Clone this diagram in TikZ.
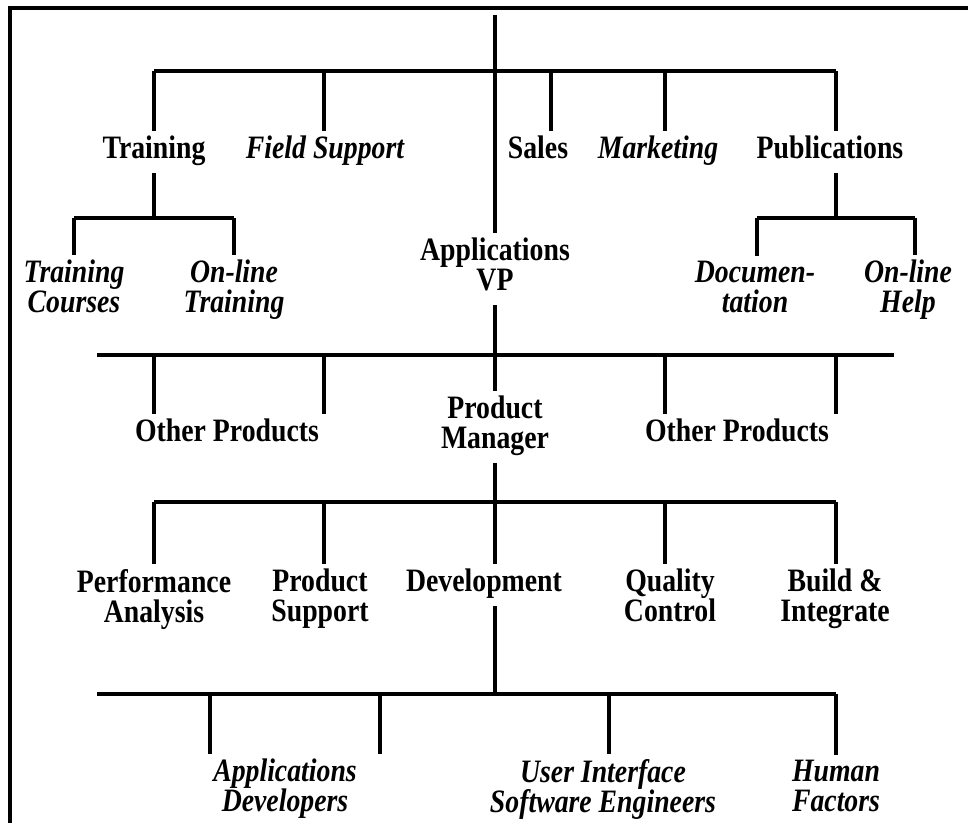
\documentclass[tikz,border=0pt]{standalone}
\usepackage{fontspec}
\setmainfont[FakeStretch=0.85]{Liberation Serif}
\usetikzlibrary{positioning}

\begin{document}
\begin{tikzpicture}[
    x=0.75pt, y=-0.75pt,
    unit/.style={font=\fontsize{24.5}{22.5}\selectfont\bfseries, align=center, inner sep=3.75pt,
        execute at begin node=\strut, execute at end node=\strut},
    staff/.style={unit, font=\fontsize{24.5}{22.5}\selectfont\bfseries\itshape},
    bar/.style={line width=3pt},
    stem/.style={line width=2.4pt},
    frame/.style={line width=3pt, line join=miter},
]
\useasboundingbox (0,0) rectangle (968,822);

% Frame
\draw[frame] (10,830) -- (10,8) -- (976,8);

% Trunk nodes
\node[unit] (vp) at (495,269) {Applications\\VP};
\node[unit] (pm) at (495,427) {Product\\Manager};
\node[unit] (dev) at (484,585) {Development};

% Level 1 units
\node[unit] (train) at (154,152) {Training};
\node[staff] (field) at (325,152) {Field Support};
\node[unit] (sales) at (538,152) {Sales};
\node[staff] (mkt) at (658,152) {Marketing};
\node[unit] (pubs) at (830,152) {Publications};

% Training and Publications groups
\node[staff] (tcourse) at (74,291) {Training\\Courses};
\node[staff] (oltrain) at (234,291) {On-line\\Training};
\node[staff] (docu) at (755,291) {Documen-\\tation};
\node[staff] (olhelp) at (908,291) {On-line\\Help};

% Product level
\node[unit] (oth1) at (227,435) {Other Products};
\node[unit] (oth2) at (737,435) {Other Products};

% Product Manager's units
\node[unit] (perf) at (154,600) {Performance\\Analysis};
\node[unit] (psup) at (320,600) {Product\\Support};
\node[unit] (qc) at (670,600) {Quality\\Control};
\node[unit] (build) at (835,600) {Build \&\\Integrate};

% Development staff
\node[staff] (appdev) at (285,790) {Applications\\Developers};
\node[staff] (uieng) at (603,790) {User Interface\\Software Engineers};
\node[staff] (human) at (836,790) {Human\\Factors};

% Bar coordinates
\coordinate (top) at (495,15);
\coordinate (b1-1) at (154,71);
\coordinate (b1-2) at (324,71);
\coordinate (b1-3) at (551,71);
\coordinate (b1-4) at (665,71);
\coordinate (b1-5) at (836,71);
\coordinate (ts-w) at (74,218);
\coordinate (ts-e) at (234,218);
\coordinate (ps-w) at (757,218);
\coordinate (ps-m) at (836,218);
\coordinate (ps-e) at (915,218);
\coordinate (b2-w) at (97,355);
\coordinate (b2-1) at (154,355);
\coordinate (b2-2) at (324,355);
\coordinate (b2-3) at (665,355);
\coordinate (b2-4) at (836,355);
\coordinate (b2-e) at (894,355);
\coordinate (b3-1) at (154,502);
\coordinate (b3-2) at (324,502);
\coordinate (b3-3) at (495,502);
\coordinate (b3-4) at (665,502);
\coordinate (b3-5) at (836,502);
\coordinate (b4-w) at (97,694);
\coordinate (b4-1) at (210,694);
\coordinate (b4-2) at (380,694);
\coordinate (b4-3) at (495,694);
\coordinate (b4-4) at (609,694);
\coordinate (b4-5) at (836,694);

% Trunk
\draw[stem] (top) -- (vp.north);
\draw[stem] (vp.south) -- (pm.north);
\draw[stem] (pm.south) -- (b3-3);
\draw[stem] (b3-3 |- dev.south) -- (b4-3);

% Level 1 bar
\draw[bar] (b1-1) -- (b1-5);
\draw[stem] (b1-1) -- (b1-1 |- train.north);
\draw[stem] (b1-2) -- (b1-2 |- field.north);
\draw[stem] (b1-3) -- (b1-3 |- sales.north);
\draw[stem] (b1-4) -- (b1-4 |- mkt.north);
\draw[stem] (b1-5) -- (b1-5 |- pubs.north);

% Training group
\draw[stem] (train.south) -- (train.south |- ts-w);
\draw[bar] (ts-w) -- (ts-e);
\draw[stem] (ts-w) -- (ts-w |- tcourse.north);
\draw[stem] (ts-e) -- (ts-e |- oltrain.north);

% Publications group
\draw[stem] (ps-m |- pubs.south) -- (ps-m);
\draw[bar] (ps-w) -- (ps-e);
\draw[stem] (ps-w) -- (ps-w |- docu.north);
\draw[stem] (ps-e) -- (ps-e |- olhelp.north);

% Level 2 bar
\draw[bar] (b2-w) -- (b2-e);
\draw[stem] (b2-1) -- (b2-1 |- oth1.north);
\draw[stem] (b2-2) -- (b2-2 |- oth1.north);
\draw[stem] (b2-3) -- (b2-3 |- oth2.north);
\draw[stem] (b2-4) -- (b2-4 |- oth2.north);

% Level 3 bar
\draw[bar] (b3-1) -- (b3-5);
\draw[stem] (b3-1) -- (b3-1 |- perf.north);
\draw[stem] (b3-2) -- (b3-2 |- psup.north);
\draw[stem] (b3-3) -- (b3-3 |- dev.north);
\draw[stem] (b3-4) -- (b3-4 |- qc.north);
\draw[stem] (b3-5) -- (b3-5 |- build.north);

% Level 4 bar
\draw[bar] (b4-w) -- (b4-5);
\draw[stem] (b4-1) -- (b4-1 |- appdev.north);
\draw[stem] (b4-2) -- (b4-2 |- appdev.north);
\draw[stem] (b4-4) -- (b4-4 |- uieng.north);
\draw[stem] (b4-5) -- (b4-5 |- human.north);

\end{tikzpicture}
\end{document}
